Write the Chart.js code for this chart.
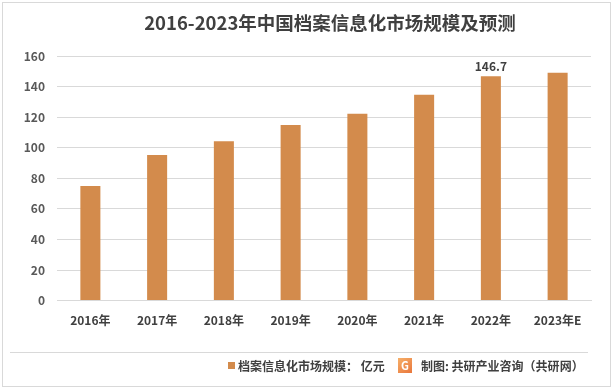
<!DOCTYPE html>
<html><head><meta charset="utf-8">
<script src="https://cdn.jsdelivr.net/npm/chart.js@4"></script>
<style>html,body{margin:0;padding:0;background:#fff}#wrap{width:616px;height:391px}</style>
</head><body><div id="wrap"><canvas id="c" width="616" height="391"></canvas></div>
<script>
const categories = ['2016年','2017年','2018年','2019年','2020年','2021年','2022年','2023年E'];
const marketSize = [75, 95.2, 104.3, 114.8, 122.2, 134.6, 146.7, 149];
const labelledIndex = [6];
const yTicks = {min: 0, max: 160, step: 20};
const titleText = '2016-2023年中国档案信息化市场规模及预测';
const seriesLabel = '档案信息化市场规模： 亿元';
const sourceText = '制图: 共研产业咨询（共研网）';
const FONT = '"Noto Sans CJK SC", "Noto Sans", sans-serif';
const BAR = 'rgb(211,139,76)';

const decor = {
  id: 'decor',
  beforeDraw(chart) {
    const ctx = chart.ctx;
    ctx.save();
    ctx.fillStyle = '#fff';
    ctx.fillRect(0, 0, chart.width, chart.height);
    ctx.strokeStyle = '#d9d9d9';
    ctx.lineWidth = 1;
    ctx.strokeRect(2.5, 2.5, 608, 384);
    ctx.restore();
  },
  afterDatasetsDraw(chart) {
    const ctx = chart.ctx;
    const meta = chart.getDatasetMeta(0);
    ctx.save();
    ctx.font = 'bold 12px ' + FONT;
    ctx.fillStyle = '#404040';
    ctx.textAlign = 'center';
    ctx.textBaseline = 'bottom';
    labelledIndex.forEach(i => {
      const el = meta.data[i];
      ctx.fillText(String(marketSize[i]), el.x, el.y - 4);
    });
    ctx.restore();
  },
  afterDraw(chart) {
    const ctx = chart.ctx;
    ctx.save();
    // title
    ctx.font = 'bold 18.5px ' + FONT;
    ctx.fillStyle = '#404040';
    ctx.textAlign = 'center';
    ctx.textBaseline = 'middle';
    ctx.fillText(titleText, 330, 23);
    // separator
    ctx.strokeStyle = '#d9d9d9';
    ctx.lineWidth = 1;
    ctx.beginPath(); ctx.moveTo(10, 352.5); ctx.lineTo(588, 352.5); ctx.stroke();
    // legend
    ctx.fillStyle = BAR;
    ctx.fillRect(228, 362, 7, 7);
    ctx.font = 'bold 12px ' + FONT;
    ctx.fillStyle = '#404040';
    ctx.textAlign = 'left';
    ctx.textBaseline = 'middle';
    ctx.fillText(chart.data.datasets[0].label, 238, 366);
    // logo
    const g = ctx.createLinearGradient(398, 357, 412, 374);
    g.addColorStop(0, '#f7b26b'); g.addColorStop(1, '#e8743a');
    ctx.fillStyle = g;
    ctx.fillRect(398, 358, 14, 15);
    ctx.fillStyle = '#fff';
    ctx.font = 'bold 11px ' + FONT;
    ctx.textAlign = 'center';
    ctx.fillText('G', 405, 366);
    ctx.fillStyle = '#404040';
    ctx.font = 'bold 12px ' + FONT;
    ctx.textAlign = 'left';
    ctx.fillText(sourceText, 421, 366);
    ctx.restore();
  }
};

new Chart(document.getElementById('c'), {
  type: 'bar',
  data: {
    labels: categories,
    datasets: [{
      label: seriesLabel,
      data: marketSize,
      backgroundColor: BAR,
      barPercentage: 0.6,
      categoryPercentage: 0.5
    }]
  },
  options: {
    responsive: false,
    animation: false,
    devicePixelRatio: 1,
    layout: {padding: {left: 0, right: 25, top: 56, bottom: 58}},
    plugins: {
      legend: {display: false},
      tooltip: {enabled: false},
      title: {display: false}
    },
    scales: {
      x: {
        grid: {display: false},
        border: {display: true, color: '#d9d9d9'},
        ticks: {color: '#404040', font: {family: FONT, size: 12, weight: 'bold'}, padding: 5}
      },
      y: {
        min: yTicks.min, max: yTicks.max,
        afterFit(s) { s.width = 57; },
        grid: {color: '#d9d9d9', drawTicks: false},
        border: {display: false},
        ticks: {stepSize: yTicks.step, color: '#595959', font: {family: FONT, size: 12, weight: 'bold'}, padding: 12}
      }
    }
  },
  plugins: [decor]
});
</script></body></html>
